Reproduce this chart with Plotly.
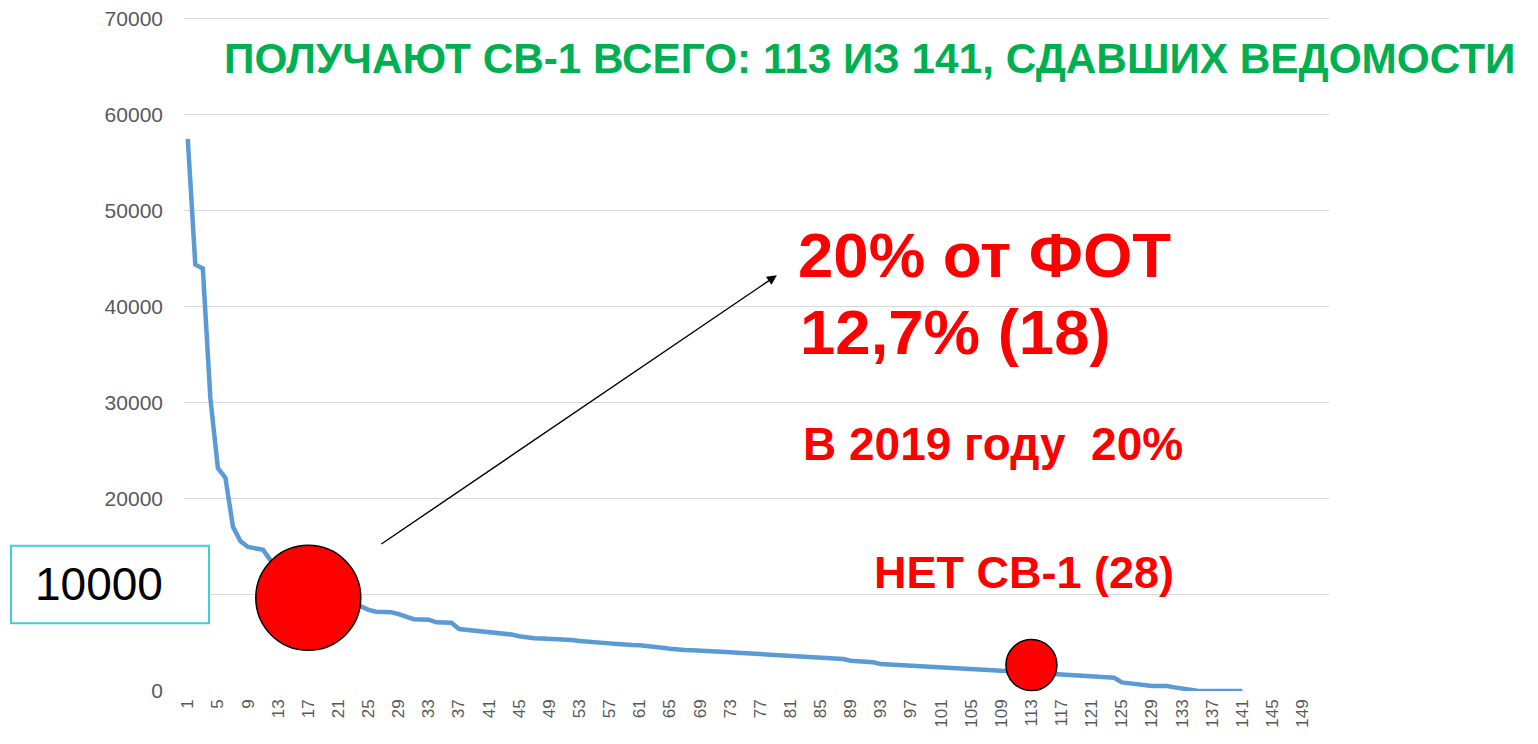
import plotly.graph_objects as go

# ---- data ----
positions = list(range(1, 142))
values = [
    57500, 44400, 44000, 30500, 23200, 22200, 17100, 15600, 15000, 14900,
    14700, 13600, 12800, 12000, 11300, 10600, 10000, 9700, 9500, 9300,
    9200, 9100, 8950, 8800, 8450, 8260, 8230, 8200, 8000, 7750,
    7480, 7450, 7430, 7150, 7130, 7120, 6450, 6380, 6300, 6200,
    6150, 6080, 5980, 5880, 5700, 5580, 5500, 5480, 5450, 5400,
    5330, 5300, 5200, 5160, 5140, 5050, 4960, 4900, 4800, 4780,
    4760, 4700, 4620, 4500, 4400, 4280, 4260, 4240, 4220, 4190,
    4170, 4100, 4040, 3980, 3930, 3880, 3830, 3780, 3740, 3700,
    3660, 3620, 3590, 3560, 3520, 3400, 3360, 3330, 3150, 3100,
    3050, 2990, 2800, 2750, 2690, 2680, 2670, 2600, 2540, 2480,
    2440, 2390, 2340, 2300, 2230, 2190, 2160, 2130, 2100, 2080,
    2050, 2000, 1950, 1900, 1850, 1780, 1730, 1650, 1560, 1500,
    1470, 1440, 1410, 1380, 900, 820, 700, 560, 530, 520,
    510, 380, 250, 200, 30, 10, 5, 0, 0, 0,
    0,
]
highlight_x = [17, 113]
highlight_y = [9700, 2700]
x_tick_vals = list(range(1, 150, 4))
y_tick_vals = [0, 10000, 20000, 30000, 40000, 50000, 60000, 70000]
y_tick_text = ["0", "", "20000", "30000", "40000", "50000", "60000", "70000"]

title_text = "ПОЛУЧАЮТ СВ-1 ВСЕГО: 113 ИЗ 141, СДАВШИХ ВЕДОМОСТИ"
line1_text = "20% от ФОТ"
line2_text = "12,7% (18)"
line3_text = "В 2019 году  20%"
line4_text = "НЕТ СВ-1 (28)"
box_text = "10000"

# ---- layout geometry (page pixels; page body has an 8px margin) ----
OFF = 8
Y_TOP = 70300                      # small headroom so the 70000 gridline is drawn
PX_PER_UNIT = 672 / 70000
W, H = 1538 - OFF, 744 - OFF
L, R, B = 184 - OFF, 1329 - OFF, 691 - OFF
T = B - Y_TOP * PX_PER_UNIT


def px_x(px):
    return (px - OFF - L) / (R - L)


def px_y(py):
    return (B - (py - OFF)) / (B - T)


fig = go.Figure()
fig.add_trace(go.Scatter(
    x=positions, y=values, mode="lines",
    line=dict(color="#5B9BD5", width=4.5),
    cliponaxis=False, hoverinfo="skip", showlegend=False,
))
fig.add_trace(go.Scatter(
    x=highlight_x, y=highlight_y, mode="markers",
    marker=dict(size=[105, 51], color="#FF0000", opacity=1,
                line=dict(color="#000000", width=1.5)),
    opacity=1, cliponaxis=False, hoverinfo="skip", showlegend=False,
))

fig.update_layout(
    width=W, height=H,
    margin=dict(l=L, r=W - R, t=T, b=H - B, pad=0, autoexpand=False),
    paper_bgcolor="white", plot_bgcolor="white",
    font=dict(family="Liberation Sans, Arial, sans-serif"),
    showlegend=False,
)
fig.update_xaxes(
    range=[0.5, 152.5], tickmode="array", tickvals=x_tick_vals,
    ticktext=[str(v) for v in x_tick_vals], tickangle=-90,
    tickfont=dict(size=17, color="#595959"),
    showgrid=False, zeroline=False, showline=False, ticks="",
    ticklabelstandoff=4, automargin=False, ticklabeloverflow="allow",
)
fig.update_yaxes(
    range=[0, Y_TOP], tickmode="array", tickvals=y_tick_vals,
    ticktext=y_tick_text,
    tickfont=dict(size=21, color="#595959"),
    showgrid=True, gridcolor="#D9D9D9", gridwidth=1.3,
    zeroline=False, showline=False, ticks="",
    ticklabelstandoff=20, automargin=False, ticklabeloverflow="allow",
)

# arrow
fig.add_annotation(
    x=79.2, y=43300, ax=26.5, ay=15200, xref="x", yref="y",
    axref="x", ayref="y", text="", showarrow=True,
    arrowhead=2, arrowsize=1.4, arrowwidth=1.4, arrowcolor="#000000",
    standoff=0, startstandoff=0,
)

# box around 10000
fig.add_shape(
    type="rect", xref="paper", yref="paper",
    x0=px_x(11), x1=px_x(209), y0=px_y(623.3), y1=px_y(545.7),
    line=dict(color="#3FD0D0", width=2), fillcolor="white", layer="above",
)
fig.add_annotation(
    x=px_x(33), y=px_y(584.5), xref="paper", yref="paper",
    xanchor="left", yanchor="middle", text=box_text, showarrow=False,
    font=dict(size=46, color="#000000"),
)

# texts
fig.add_annotation(
    x=px_x(222), y=px_y(59), xref="paper", yref="paper",
    xanchor="left", yanchor="middle", text="<b>" + title_text + "</b>",
    showarrow=False, font=dict(size=42.3, color="#00B050"),
)
fig.add_annotation(
    x=px_x(796), y=px_y(255), xref="paper", yref="paper",
    xanchor="left", yanchor="middle", text="<b>" + line1_text + "</b>",
    showarrow=False, font=dict(size=63.5, color="#FF0000"),
)
fig.add_annotation(
    x=px_x(798), y=px_y(332), xref="paper", yref="paper",
    xanchor="left", yanchor="middle", text="<b>" + line2_text + "</b>",
    showarrow=False, font=dict(size=63.5, color="#FF0000"),
)
fig.add_annotation(
    x=px_x(801), y=px_y(444.5), xref="paper", yref="paper",
    xanchor="left", yanchor="middle", text="<b>" + line3_text + "</b>",
    showarrow=False, font=dict(size=46, color="#FF0000"),
)
fig.add_annotation(
    x=px_x(872), y=px_y(573), xref="paper", yref="paper",
    xanchor="left", yanchor="middle", text="<b>" + line4_text + "</b>",
    showarrow=False, font=dict(size=45, color="#FF0000"),
)

fig.write_html("out.html")
